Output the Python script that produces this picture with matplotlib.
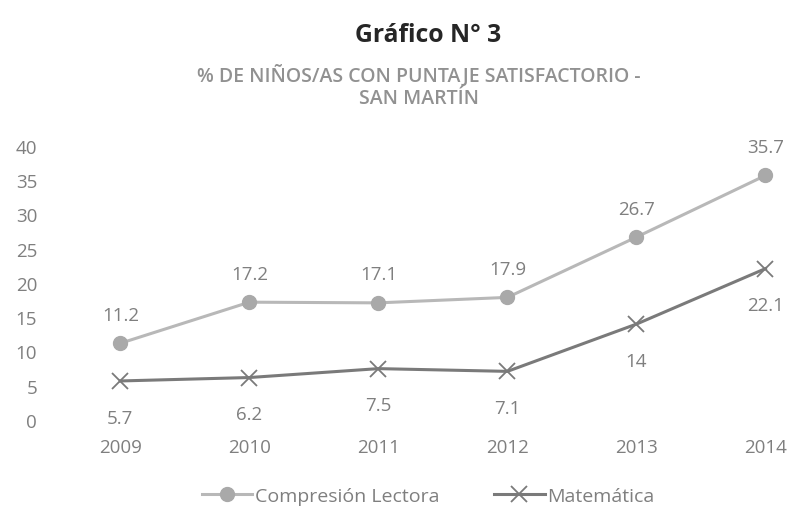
import matplotlib.pyplot as plt

plt.rcParams['font.family'] = ['Open Sans', 'DejaVu Sans']

years = ['2009', '2010', '2011', '2012', '2013', '2014']
compresion = [11.2, 17.2, 17.1, 17.9, 26.7, 35.7]
matematica = [5.7, 6.2, 7.5, 7.1, 14, 22.1]
yticks = [0, 5, 10, 15, 20, 25, 30, 35, 40]

txt = '#7f7f7f'
x = range(len(years))

fig = plt.figure(figsize=(7.9, 5.1), dpi=100)
ax = fig.add_axes([0.07, 0.1745, 0.93, 0.5373])

ax.plot(x, compresion, color='#b8b8b8', lw=2.2, marker='o', ms=10,
        mfc='#a9a9a9', mec='#a9a9a9', label='Compresión Lectora', clip_on=False)
ax.plot(x, matematica, color='#7a7a7a', lw=2.2, marker='x', ms=12, mew=1.3,
        label='Matemática', clip_on=False)

for i, v in enumerate(compresion):
    ax.annotate(f'{v:g}', (i, v), xytext=(0, 14), textcoords='offset points',
                ha='center', va='bottom', color=txt, fontsize=13.5)
for i, v in enumerate(matematica):
    ax.annotate(f'{v:g}', (i, v), xytext=(0, -20), textcoords='offset points',
                ha='center', va='top', color=txt, fontsize=13.5)

ax.set_xlim(-0.504, 5.19)
ax.set_ylim(0, 40)
ax.set_yticks(yticks)
ax.set_xticks(list(x))
ax.set_xticklabels(years)
ax.tick_params(length=0, labelcolor=txt, labelsize=13.5)
ax.tick_params(axis='y', pad=13)
ax.tick_params(axis='x', pad=13)
for s in ax.spines.values():
    s.set_visible(False)

fig.text(0.542, 0.93, 'Gráfico N° 3', ha='center', va='center',
         fontsize=17.8, fontweight='bold', color='#262626')
fig.text(0.53, 0.83, '% DE NIÑOS/AS CON PUNTAJE SATISFACTORIO -\nSAN MARTÍN',
         ha='center', va='center', fontsize=14, color='#919191',
         linespacing=1.15, fontweight='semibold')

fig.legend(loc='center', bbox_to_anchor=(0.542, 0.025), ncol=2, frameon=False,
           fontsize=14, labelcolor=txt, handlelength=2.6, columnspacing=2.8,
           handletextpad=0.15)

fig.savefig('out.png', dpi=100)
